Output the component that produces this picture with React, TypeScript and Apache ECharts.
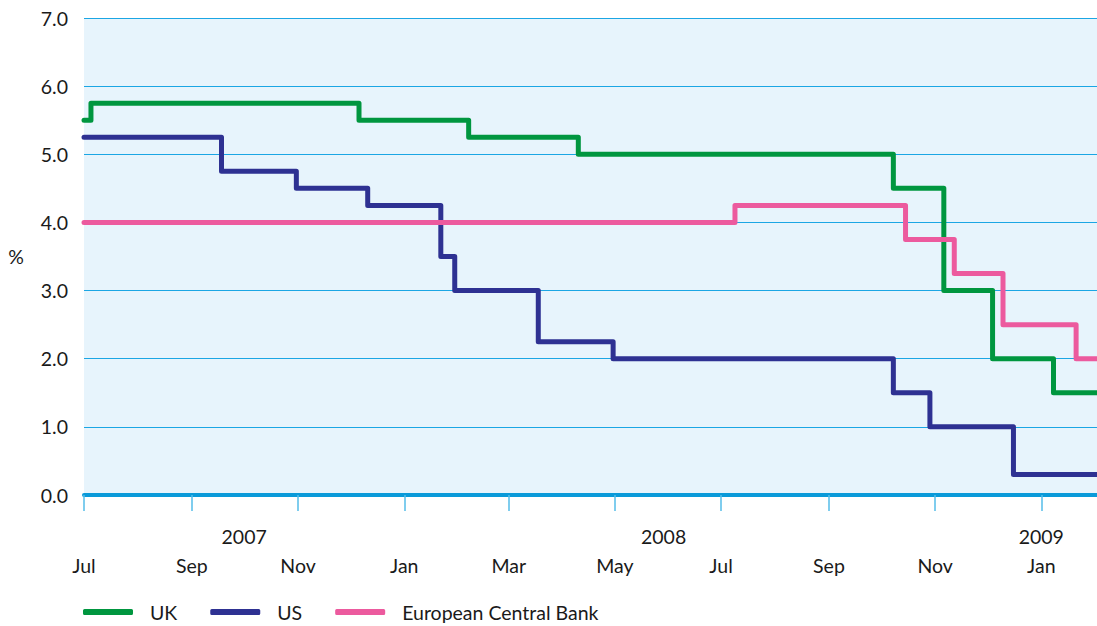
import React, { useEffect, useRef } from "react";
import * as echarts from "echarts";

// Official policy rates, recorded at each change date (new rate from that day)
const ukDates = ["2007-07-01", "2007-07-05", "2007-12-06", "2008-02-07", "2008-04-10", "2008-10-08", "2008-11-06", "2008-12-04", "2009-01-08", "2009-02-02"];
const ukRates = [5.5, 5.75, 5.5, 5.25, 5.0, 4.5, 3.0, 2.0, 1.5, 1.5];

const usDates = ["2007-07-01", "2007-09-18", "2007-10-31", "2007-12-11", "2008-01-22", "2008-01-30", "2008-03-18", "2008-04-30", "2008-10-08", "2008-10-29", "2008-12-16", "2009-02-02"];
const usRates = [5.25, 4.75, 4.5, 4.25, 3.5, 3.0, 2.25, 2.0, 1.5, 1.0, 0.3, 0.3];

const ecbDates = ["2007-07-01", "2008-07-09", "2008-10-15", "2008-11-12", "2008-12-10", "2009-01-21", "2009-02-02"];
const ecbRates = [4.0, 4.25, 3.75, 3.25, 2.5, 2.0, 2.0];

// Axis labels
const monthTicks = ["2007-07-01", "2007-09-01", "2007-11-01", "2008-01-01", "2008-03-01", "2008-05-01", "2008-07-01", "2008-09-01", "2008-11-01", "2009-01-01"];
const yearLabelDates = ["2007-10-01", "2008-05-29", "2009-01-01"];
const monthNames = ["Jan", "Feb", "Mar", "Apr", "May", "Jun", "Jul", "Aug", "Sep", "Oct", "Nov", "Dec"];

const xMin = "2007-07-01";
const xMax = "2009-02-02";

const FONT = "Lato";
const FS = 19.5;

const toTime = (s: string) => {
  const [y, m, d] = s.split("-").map(Number);
  return Date.UTC(y, m - 1, d);
};

const pairs = (dates: string[], vals: number[]) => dates.map((d, i) => [toTime(d), vals[i]]);

export default function App() {
  const ref = useRef<HTMLDivElement>(null);

  useEffect(() => {
    document.body.style.margin = "0";
    if (!ref.current) return;
    const chart = echarts.init(ref.current, undefined, { renderer: "svg" });

    const lineSeries = (name: string, color: string, dates: string[], vals: number[]) => ({
      name,
      type: "line",
      step: "end",
      showSymbol: false,
      symbol: "none",
      data: pairs(dates, vals),
      lineStyle: { color, width: 5, join: "round", cap: "round" },
      itemStyle: { color },
      z: 3,
    });

    chart.setOption({
      animation: false,
      textStyle: { fontFamily: FONT },
      grid: {
        left: 84,
        right: 0,
        top: 18,
        bottom: 131,
        show: true,
        backgroundColor: "#e7f4fc",
        borderWidth: 0,
      },
      legend: {
        left: 83,
        top: 602,
        padding: 0,
        itemWidth: 50,
        itemHeight: 6,
        itemGap: 33,
        icon: "roundRect",
        textStyle: { fontFamily: FONT, fontSize: FS, color: "#1a1a1a", padding: [0, 0, 0, 12] },
        data: ["UK", "US", "European Central Bank"],
      },
      xAxis: [
        {
          type: "value",
          min: toTime(xMin),
          max: toTime(xMax),
          position: "bottom",
          axisLine: { show: true, onZero: false, lineStyle: { color: "#0a9ad9", width: 4 } },
          axisTick: {
            show: true,
            inside: false,
            length: 16,
            customValues: monthTicks.map(toTime),
            lineStyle: { color: "#55bde9", width: 1.5 },
          },
          axisLabel: {
            show: true,
            margin: 60,
            customValues: monthTicks.map(toTime),
            formatter: (v: number) => monthNames[new Date(v).getUTCMonth()],
            fontFamily: FONT,
            fontSize: FS,
            color: "#1a1a1a",
          },
          splitLine: { show: false },
        },
        {
          type: "value",
          min: toTime(xMin),
          max: toTime(xMax),
          position: "bottom",
          offset: 0,
          axisLine: { show: false },
          axisTick: { show: false },
          axisLabel: {
            show: true,
            margin: 31,
            customValues: yearLabelDates.map(toTime),
            formatter: (v: number) => String(new Date(v).getUTCFullYear()),
            fontFamily: FONT,
            fontSize: FS,
            color: "#1a1a1a",
          },
          splitLine: { show: false },
        },
      ],
      yAxis: {
        type: "value",
        min: 0,
        max: 7,
        interval: 1,
        name: "%",
        nameLocation: "middle",
        nameRotate: 0,
        nameGap: 60,
        nameTextStyle: { fontFamily: FONT, fontSize: FS, color: "#1a1a1a", padding: [0, 0, 6, 0] },
        axisLine: { show: false },
        axisTick: { show: false },
        axisLabel: {
          margin: 16,
          formatter: (v: number) => v.toFixed(1),
          fontFamily: FONT,
          fontSize: FS,
          color: "#1a1a1a",
        },
        splitLine: { show: true, lineStyle: { color: "#1ba6e4", width: 1 } },
      },
      series: [
        lineSeries("UK", "#00963f", ukDates, ukRates),
        lineSeries("US", "#2e3192", usDates, usRates),
        lineSeries("European Central Bank", "#ec5a9e", ecbDates, ecbRates),
      ],
    });

    return () => chart.dispose();
  }, []);

  return <div ref={ref} style={{ width: 1097, height: 626 }} />;
}
